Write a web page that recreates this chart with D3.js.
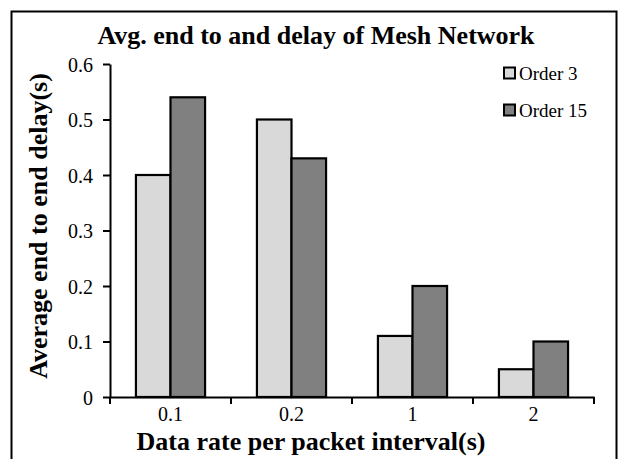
<!DOCTYPE html>
<html><head><meta charset="utf-8">
<script src="https://cdn.jsdelivr.net/npm/d3@7"></script>
<style>body{margin:0;background:#fff}svg{display:block}text{font-family:"Liberation Serif","Times New Roman",serif;fill:#000}</style>
</head><body><svg id="c" width="624" height="459"></svg>
<script>
const categories = ["0.1", "0.2", "1", "2"];
const seriesNames = ["Order 3", "Order 15"];
const order3 = [0.40, 0.50, 0.11, 0.05];
const order15 = [0.54, 0.43, 0.20, 0.10];
const yTicks = [0, 0.1, 0.2, 0.3, 0.4, 0.5, 0.6];
const colors = ["#d9d9d9", "#808080"];

(function(){
const svg = d3.select("#c");
svg.append("rect").attr("x", 11.5).attr("y", 11.5).attr("width", 605).attr("height", 460)
  .attr("fill", "none").attr("stroke", "#000").attr("stroke-width", 2);

const pl = 110, pr = 594, pt = 64, pb = 397;
const x0 = d3.scaleBand().domain(categories).range([pl, pr]).padding(0);
const x1 = d3.scaleBand().domain(seriesNames).range([0, x0.bandwidth()]).paddingInner(0).paddingOuter(0.75);
const y = d3.scaleLinear().domain([0, 0.6]).range([pb, pt]);

const data = categories.map((c, i) => ({c, vals: [order3[i], order15[i]]}));
const g = svg.append("g");
g.selectAll("g.grp").data(data).join("g").attr("class", "grp")
  .attr("transform", d => `translate(${x0(d.c)},0)`)
  .selectAll("rect").data(d => d.vals.map((v, j) => ({v, s: seriesNames[j], j})))
  .join("rect")
  .attr("x", d => x1(d.s)).attr("width", x1.bandwidth())
  .attr("y", d => y(d.v)).attr("height", d => y(0) - y(d.v))
  .attr("fill", d => colors[d.j]).attr("stroke", "#000").attr("stroke-width", 2.2);

const ya = svg.append("g").attr("transform", `translate(${pl},0)`)
  .call(d3.axisLeft(y).tickValues(yTicks).tickFormat(d => d === 0 ? "0" : d3.format(".1f")(d)).tickSize(7).tickSizeOuter(0));
ya.select(".domain").attr("stroke", "#000").attr("stroke-width", 2);
ya.selectAll(".tick line").attr("stroke", "#000").attr("stroke-width", 2);
ya.selectAll(".tick text").attr("font-size", 20).attr("x", -17).attr("dy", "0.35em");

const xa = svg.append("g").attr("transform", `translate(0,${pb})`)
  .call(d3.axisBottom(x0).tickSize(0).tickSizeOuter(0));
xa.select(".domain").attr("stroke", "#000").attr("stroke-width", 2);
xa.selectAll(".tick text").attr("font-size", 20).attr("y", 10).attr("dy", "0.71em");
const bt = [...categories.map(c => x0(c)), pr];
xa.selectAll("line.bt").data(bt).join("line").attr("class", "bt")
  .attr("x1", d => d).attr("x2", d => d).attr("y1", 0).attr("y2", 7)
  .attr("stroke", "#000").attr("stroke-width", 2);

svg.append("text").attr("x", 316).attr("y", 44).attr("text-anchor", "middle")
  .attr("font-size", 26).attr("font-weight", "bold").text("Avg. end to and delay of Mesh Network");
svg.append("text").attr("x", 311).attr("y", 450).attr("text-anchor", "middle")
  .attr("font-size", 26).attr("font-weight", "bold").text("Data rate per packet interval(s)");
svg.append("text").attr("transform", "translate(47,226) rotate(-90)").attr("text-anchor", "middle")
  .attr("font-size", 26).attr("font-weight", "bold").text("Average end to end delay(s)");

const lg = svg.append("g");
seriesNames.forEach((s, i) => {
  const yy = 73 + i * 37;
  lg.append("rect").attr("x", 504).attr("y", yy - 5.5).attr("width", 11).attr("height", 11)
    .attr("fill", colors[i]).attr("stroke", "#000").attr("stroke-width", 2);
  lg.append("text").attr("x", 519).attr("y", yy).attr("dy", "0.35em").attr("font-size", 19).text(s);
});
})();
</script></body></html>
